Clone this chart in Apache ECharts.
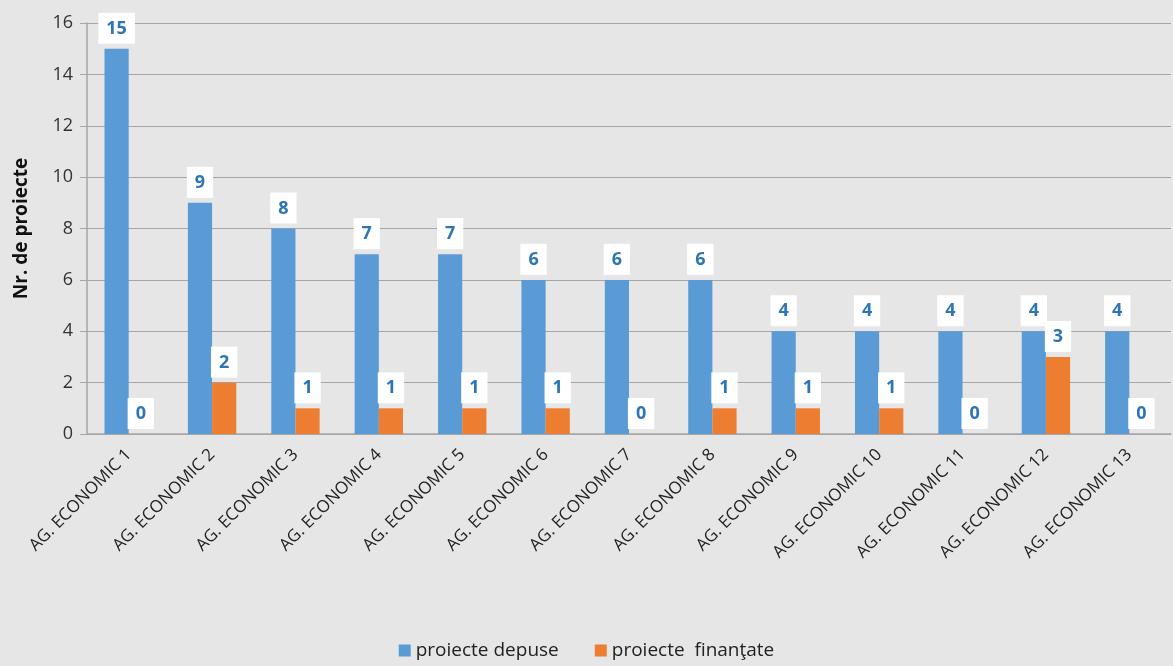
<!DOCTYPE html>
<html><head><meta charset="utf-8">
<script src="https://cdn.jsdelivr.net/npm/echarts@6/dist/echarts.min.js"></script>
<style>html,body{margin:0;padding:0;background:#e6e6e6;}#c{width:1173px;height:666px;}</style>
</head><body><div id="c"></div>
<script>
const categories = ['AG. ECONOMIC 1','AG. ECONOMIC 2','AG. ECONOMIC 3','AG. ECONOMIC 4','AG. ECONOMIC 5','AG. ECONOMIC 6','AG. ECONOMIC 7','AG. ECONOMIC 8','AG. ECONOMIC 9','AG. ECONOMIC 10','AG. ECONOMIC 11','AG. ECONOMIC 12','AG. ECONOMIC 13'];
const depuse = [15,9,8,7,7,6,6,6,4,4,4,4,4];
const finantate = [0,2,1,1,1,1,0,1,1,1,0,3,0];
const seriesNames = ['proiecte depuse','proiecte  finanţate'];
const yAxisName = 'Nr. de proiecte';

const font = '"Open Sans", "Noto Sans", sans-serif';
const labelStyle = {
  show: true, position: 'top', distance: 5,
  backgroundColor: '#ffffff', padding: [7, 8, 6, 8],
  color: '#2e75b6', fontWeight: 'bold', fontSize: 18, fontFamily: font
};
const chart = echarts.init(document.getElementById('c'));
chart.setOption({
  backgroundColor: '#e6e6e6',
  textStyle: {fontFamily: font},
  grid: {left: 87, right: 2, top: 23, bottom: 232},
  legend: {
    bottom: 1, left: 'center', itemWidth: 12, itemHeight: 12, itemGap: 36,
    icon: 'rect',
    textStyle: {fontSize: 19, color: '#222', fontFamily: font},
    data: seriesNames
  },
  xAxis: {
    type: 'category', data: categories,
    axisLine: {lineStyle: {color: '#a6a6a6', width: 1.5}},
    axisTick: {show: false},
    axisLabel: {rotate: 45, fontSize: 17, color: '#222', interval: 0, margin: 18, fontFamily: font}
  },
  yAxis: {
    type: 'value', min: 0, max: 16, interval: 2,
    name: yAxisName, nameLocation: 'middle', nameGap: 56,
    nameTextStyle: {fontSize: 19, fontWeight: 'bold', color: '#111', fontFamily: font},
    axisLine: {show: true, lineStyle: {color: '#a6a6a6', width: 1.5}},
    axisTick: {show: true, length: 7, lineStyle: {color: '#a6a6a6'}},
    axisLabel: {fontSize: 18, color: '#333', margin: 14, fontFamily: font},
    splitLine: {lineStyle: {color: '#a6a6a6', width: 1.2}}
  },
  series: [
    {name: seriesNames[0], type: 'bar', data: depuse, barWidth: '29%', barGap: '0%',
     itemStyle: {color: '#5b9bd5'}, label: labelStyle},
    {name: seriesNames[1], type: 'bar', data: finantate, barWidth: '29%',
     itemStyle: {color: '#ed7d31'}, label: labelStyle}
  ]
});
</script></body></html>
